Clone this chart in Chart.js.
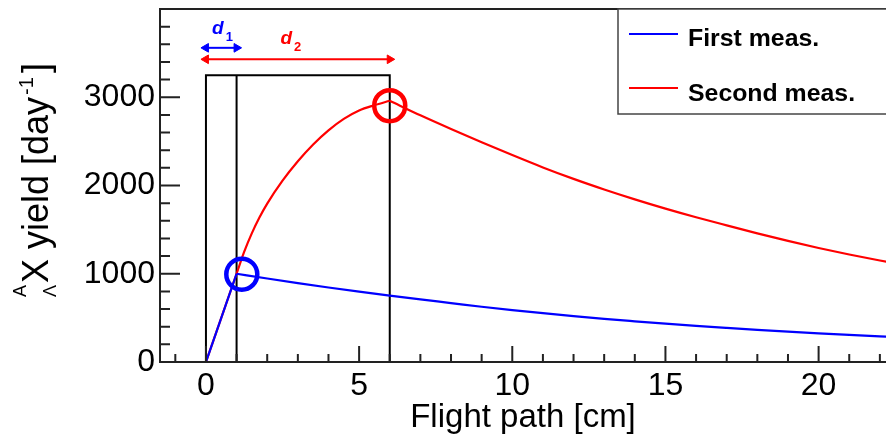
<!DOCTYPE html>
<html>
<head>
<meta charset="utf-8">
<script src="https://cdn.jsdelivr.net/npm/chart.js@4.4.1/dist/chart.umd.min.js"></script>
<style>
  html, body { margin: 0; padding: 0; background: #fff; }
  #wrap { width: 886px; height: 439px; }
</style>
</head>
<body>
<div id="wrap"><canvas id="yieldChart" width="886" height="439"></canvas></div>
<script>
'use strict';

// flight path [cm] vs yield [day^-1]
const firstX = [0, 1, 2, 3, 4, 5, 6, 7, 8, 9, 10, 11, 12, 13, 14, 15, 16, 17, 18, 19, 20, 21, 22, 22.5];
const firstY = [0, 1000, 946, 894, 844, 797, 752, 709, 668, 626, 588, 553, 520, 489, 461, 434, 409, 386, 364, 344, 325, 307, 290, 283];
const firstPeak = 1; // index of the maximum

const secondX = [0, 1, 1.25, 1.5, 1.75, 2, 2.5, 3, 3.5, 4, 4.5, 5, 5.5, 6, 7, 8, 9, 10, 11, 12, 13, 14, 15, 16, 17, 18, 19, 20, 21, 22, 22.5];
const secondY = [0, 1000, 1250, 1460, 1640, 1795, 2055, 2275, 2465, 2625, 2755, 2850, 2910, 2960, 2795, 2640, 2490, 2345, 2205, 2075, 1955, 1843, 1738, 1640, 1548, 1458, 1372, 1292, 1218, 1150, 1118];
const secondPeak = 13;

const seriesLabels = ['First meas.', 'Second meas.'];

// circled maxima
const firstMark = [1.17, 995];
const secondMark = [6, 2905];

// boxes and arrows for d1 / d2
const boxX = [0, 0, 6, 6];
const boxY = [0, 3250, 3250, 0];
const innerX = [1, 1];
const innerY = [0, 3250];
const d1X = [0, 1];
const d1Y = [3560, 3560];
const d2X = [0, 6];
const d2Y = [3430, 3430];

const xTicks = [0, 5, 10, 15, 20];
const yTicks = [0, 1000, 2000, 3000];

const BLUE = '#0000ff';
const RED = '#ff0000';
const FONT = "'Liberation Sans', Arial, sans-serif";

function pts(xs, ys) {
  return xs.map((x, i) => ({x: x, y: ys[i]}));
}

function curve(xs, ys, from, to, color, order, smooth) {
  return {
    data: pts(xs.slice(from, to), ys.slice(from, to)),
    borderColor: color,
    borderWidth: 2.2,
    pointRadius: 0,
    cubicInterpolationMode: smooth ? 'monotone' : 'default',
    tension: 0,
    order: order
  };
}

function arrow(xs, ys, color) {
  return {
    data: pts(xs, ys),
    borderColor: color,
    borderWidth: 2,
    pointStyle: 'triangle',
    pointRadius: 5,
    pointRotation: [-90, 90],
    pointBackgroundColor: color,
    pointBorderColor: color,
    pointBorderWidth: 1,
    order: 3
  };
}

// axis frame with inside ticks, ROOT style
const frame = {
  id: 'frame',
  afterDraw(chart) {
    const {ctx, chartArea: a, scales: {x, y}} = chart;
    ctx.save();
    ctx.strokeStyle = '#222';
    ctx.lineWidth = 2;
    ctx.beginPath();
    ctx.moveTo(a.right + 2, a.top);
    ctx.lineTo(a.left, a.top);
    ctx.lineTo(a.left, a.bottom);
    ctx.lineTo(a.right + 2, a.bottom);
    for (let v = -1; v <= 22; v++) {
      const px = x.getPixelForValue(v);
      const len = v % 5 === 0 ? 16 : 8;
      ctx.moveTo(px, a.bottom);
      ctx.lineTo(px, a.bottom - len);
    }
    for (let v = 200; v < 4000; v += 200) {
      const py = y.getPixelForValue(v);
      const len = v % 1000 === 0 ? 20 : 10;
      ctx.moveTo(a.left, py);
      ctx.lineTo(a.left + len, py);
    }
    ctx.stroke();
    ctx.restore();
  }
};

// y title with the hypernucleus symbol
const yTitle = {
  id: 'yTitle',
  afterDraw(chart) {
    const ctx = chart.ctx;
    ctx.save();
    ctx.translate(48, 297);
    ctx.rotate(-Math.PI / 2);
    ctx.fillStyle = '#000';
    ctx.textBaseline = 'alphabetic';
    ctx.font = '18px ' + FONT;
    ctx.fillText('A', 0, -22);
    ctx.fillText('\u039B', 0, 8);
    let u = 14;
    ctx.font = '36px ' + FONT;
    ctx.fillText('X yield [day', u, 0);
    u += ctx.measureText('X yield [day').width + 2;
    ctx.font = '20px ' + FONT;
    ctx.fillText('-1', u, -15);
    u += ctx.measureText('-1').width + 4;
    ctx.font = '36px ' + FONT;
    ctx.fillText(']', u, 0);
    ctx.restore();
  }
};

// d1 / d2 labels and the legend box
const notes = {
  id: 'notes',
  afterDraw(chart) {
    const {ctx, scales: {x, y}} = chart;
    ctx.save();
    ctx.textBaseline = 'alphabetic';

    const labs = [['d', '1', 0.2, d1Y[0], BLUE, 13.5], ['d', '2', 2.43, d2Y[0], RED, 15.5]];
    labs.forEach(l => {
      const px = x.getPixelForValue(l[2]);
      const py = y.getPixelForValue(l[3]) - l[5];
      ctx.fillStyle = l[4];
      ctx.font = 'italic bold 19px ' + FONT;
      ctx.fillText(l[0], px, py);
      const w = ctx.measureText(l[0]).width;
      ctx.font = 'bold 13px ' + FONT;
      ctx.fillText(l[1], px + w + 2, py + 7);
    });

    // legend
    ctx.strokeStyle = '#444';
    ctx.lineWidth = 1.5;
    ctx.fillStyle = '#fff';
    ctx.fillRect(618, 9, 280, 105);
    ctx.strokeRect(618, 9, 280, 105);
    const rows = [[BLUE, 34, 46], [RED, 88, 101]];
    rows.forEach((r, i) => {
      ctx.strokeStyle = r[0];
      ctx.lineWidth = 2;
      ctx.beginPath();
      ctx.moveTo(629, r[1]);
      ctx.lineTo(678, r[1]);
      ctx.stroke();
      ctx.fillStyle = '#000';
      ctx.font = 'bold 23px ' + FONT;
      ctx.save();
      ctx.translate(688, r[2]);
      ctx.scale(1.08, 1);
      ctx.fillText(seriesLabels[i], 0, 0);
      ctx.restore();
    });
    ctx.restore();
  }
};

const ctx = document.getElementById('yieldChart');

const yieldChart = new Chart(ctx, {
  type: 'line',
  data: {
    datasets: [
      {
        label: 'marks',
        data: [{x: firstMark[0], y: firstMark[1]}, {x: secondMark[0], y: secondMark[1]}],
        showLine: false,
        pointRadius: 15.5,
        pointBorderWidth: 4.5,
        pointBorderColor: [BLUE, RED],
        pointBackgroundColor: 'rgba(0,0,0,0)',
        order: 0
      },
      curve(firstX, firstY, 0, firstPeak + 1, BLUE, 1, false),
      curve(firstX, firstY, firstPeak, firstX.length, BLUE, 1, true),
      curve(secondX, secondY, 0, secondPeak + 1, RED, 2, true),
      curve(secondX, secondY, secondPeak, secondX.length, RED, 2, true),
      {
        data: pts(boxX, boxY),
        borderColor: '#000',
        borderWidth: 2,
        pointRadius: 0,
        order: 4
      },
      {
        data: pts(innerX, innerY),
        borderColor: '#000',
        borderWidth: 2,
        pointRadius: 0,
        order: 4
      },
      arrow(d1X, d1Y, BLUE),
      arrow(d2X, d2Y, RED)
    ]
  },
  options: {
    responsive: false,
    animation: false,
    devicePixelRatio: 1,
    layout: {autoPadding: false, padding: {top: 9, right: 0, bottom: 0, left: 0}},
    plugins: {
      legend: {display: false},
      tooltip: {enabled: false}
    },
    scales: {
      x: {
        type: 'linear',
        min: -1.5,
        max: 22.2,
        grid: {display: false, drawTicks: false},
        border: {display: false},
        afterBuildTicks: s => { s.ticks = xTicks.map(v => ({value: v})); },
        afterFit: s => { s.height = 77; s.paddingLeft = 0; s.paddingRight = 0; },
        ticks: {
          font: {family: FONT, size: 32},
          color: '#000',
          padding: 5,
          maxRotation: 0,
          autoSkip: false,
          callback: v => String(v)
        },
        title: {
          display: true,
          text: 'Flight path [cm]',
          color: '#000',
          font: {family: FONT, size: 33, lineHeight: 1.2},
          padding: {top: 0, bottom: 1}
        }
      },
      y: {
        min: 0,
        max: 4000,
        grid: {display: false, drawTicks: false},
        border: {display: false},
        afterBuildTicks: s => { s.ticks = yTicks.map(v => ({value: v})); },
        afterFit: s => { s.width = 160; s.paddingTop = 0; s.paddingBottom = 0; },
        ticks: {
          font: {family: FONT, size: 32},
          color: '#000',
          padding: 5,
          autoSkip: false,
          callback: v => String(v)
        }
      }
    }
  },
  plugins: [frame, yTitle, notes]
});
</script>
</body>
</html>
